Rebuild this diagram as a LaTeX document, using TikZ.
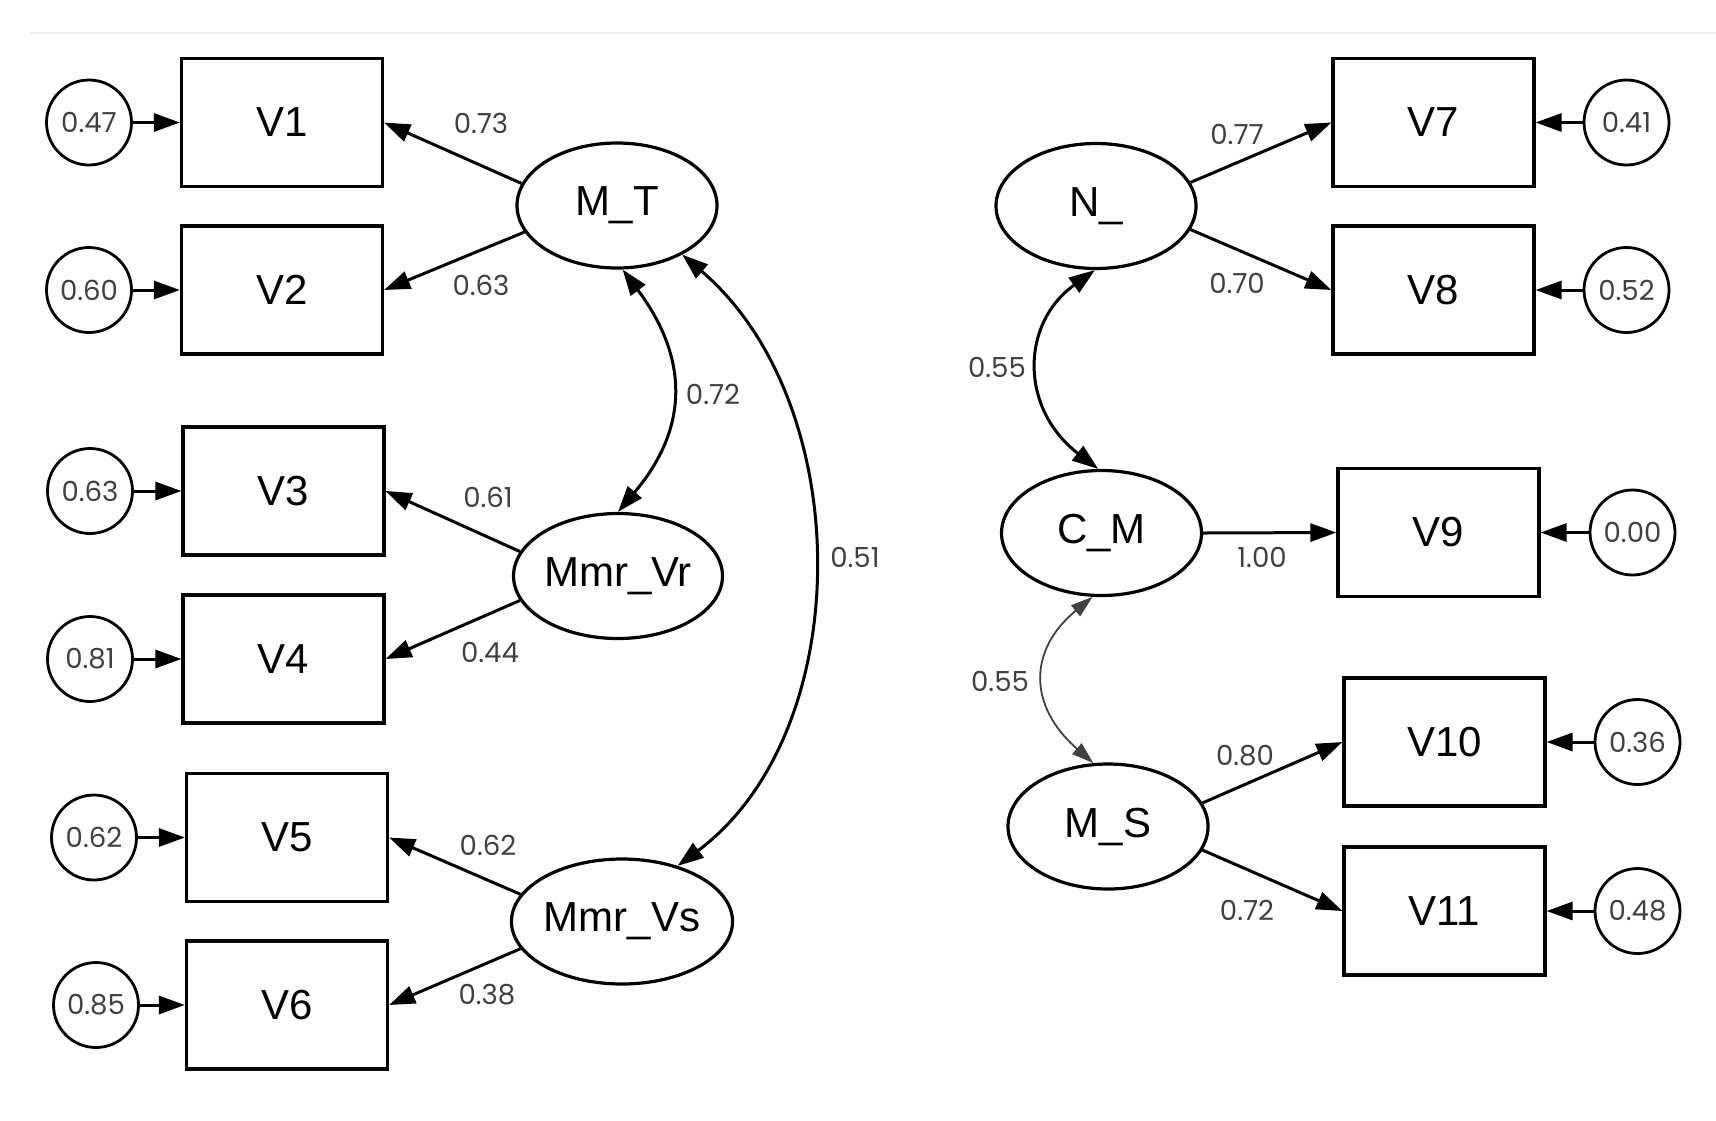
\documentclass[tikz,border=0pt]{standalone}
\usepackage{fontspec}
\setmainfont{Liberation Sans}
\newfontfamily\numfont{Poppins}
\usetikzlibrary{shapes.geometric,arrows.meta}
\definecolor{numgray}{rgb}{0.25,0.25,0.25}
\tikzset{
  obs/.style={draw, line width=1.6pt, minimum width=100.5pt, minimum height=64pt, inner sep=0pt, font=\fontsize{21}{21}\selectfont},
  lat/.style={draw, ellipse, line width=1.6pt, minimum width=100pt, minimum height=62.5pt, inner sep=0pt, font=\fontsize{21}{21}\selectfont},
  err/.style={draw, circle, line width=1.4pt, minimum size=42.5pt, inner sep=0pt, font=\numfont\fontsize{13.8}{13.8}\selectfont, text=numgray},
  lbl/.style={inner sep=0pt, font=\numfont\fontsize{13.8}{13.8}\selectfont, text=numgray},
  tip/.tip={Triangle[length=13pt,width=9pt]},
  load/.style={line width=1.5pt, -tip},
  cov/.style={line width=1.5pt, tip-tip},
  covthin/.style={line width=0.9pt, draw=black!75, {Triangle[length=11pt,width=7pt]}-{Triangle[length=11pt,width=7pt]}}
}
\begin{document}
\begin{tikzpicture}[x=0.5pt,y=-0.5pt]
\useasboundingbox (0,0) rectangle (1716,1120);
\fill[white] (0,0) rectangle (1716,1120);
\draw[gray!10, line width=0.8pt] (30,33) -- (1716,33);

% observed variables, left
\node[obs] (V1) at (282,122.5) {V1};
\node[obs] (V2) at (282,290) {V2};
\node[obs] (V3) at (283.5,491) {V3};
\node[obs] (V4) at (283.5,659) {V4};
\node[obs] (V5) at (287,837.5) {V5};
\node[obs] (V6) at (287,1005) {V6};
% errors, left
\node[err] (e1) at (89,122.5) {0.47};
\node[err] (e2) at (89,290) {0.60};
\node[err] (e3) at (90,491) {0.63};
\node[err] (e4) at (90,659) {0.81};
\node[err] (e5) at (94,837.5) {0.62};
\node[err] (e6) at (96,1005) {0.85};
% latents, left
\node[lat] (MT) at (617,205.5) {M\_T};
\node[lat] (MVr) at (618,576) {Mmr\_Vr};
\node[lat] (MVs) at (622,921.5) {Mmr\_Vs};

% observed variables, right
\node[obs] (V7) at (1433.5,122.5) {V7};
\node[obs] (V8) at (1433.5,290) {V8};
\node[obs] (V9) at (1438.5,532.5) {V9};
\node[obs] (V10) at (1444.5,742) {V10};
\node[obs] (V11) at (1444.5,911) {V11};
% errors, right
\node[err] (e7) at (1626.5,122.5) {0.41};
\node[err] (e8) at (1626.5,290) {0.52};
\node[err] (e9) at (1632.5,532.5) {0.00};
\node[err] (e10) at (1637.5,742) {0.36};
\node[err] (e11) at (1637.5,911) {0.48};
% latents, right
\node[lat] (N) at (1096,206) {N\_};
\node[lat] (CM) at (1101.5,533) {C\_M};
\node[lat] (MS) at (1108,826.5) {M\_S};

% error arrows
\draw[load] (e1.east) -- (V1.west);
\draw[load] (e2.east) -- (V2.west);
\draw[load] (e3.east) -- (V3.west);
\draw[load] (e4.east) -- (V4.west);
\draw[load] (e5.east) -- (V5.west);
\draw[load] (e6.east) -- (V6.west);
\draw[load] (e7.west) -- (V7.east);
\draw[load] (e8.west) -- (V8.east);
\draw[load] (e9.west) -- (V9.east);
\draw[load] (e10.west) -- (V10.east);
\draw[load] (e11.west) -- (V11.east);

% loadings
\draw[load] (MT.167) -- (V1.east);
\draw[load] (MT.196) -- (V2.east);
\draw[load] (MVr.166) -- (V3.east);
\draw[load] (MVr.194) -- (V4.east);
\draw[load] (MVs.165.5) -- (V5.east);
\draw[load] (MVs.195) -- (V6.east);
\draw[load] (N.14) -- (V7.west);
\draw[load] (N.346) -- (V8.west);
\draw[load] (CM.east) -- (V9.west);
\draw[load] (MS.14) -- (V10.west);
\draw[load] (MS.346) -- (V11.west);

% covariances
\draw[cov] (MT.-85) .. controls (689,358.6) and (689,428) .. (MVr.north);
\draw[cov] (MT.-37) .. controls (857,404) and (857,732) .. (MVs.45);
\draw[cov] (N.-91) .. controls (1020,324) and (1020,409) .. (CM.93);
\draw[covthin] (CM.-98) .. controls (1028,650) and (1028,706) .. (MS.103);

% labels
\node[lbl] (l1) at (481,123) {0.73};
\node[lbl] (l2) at (481,285) {0.63};
\node[lbl] (l3) at (488,497) {0.61};
\node[lbl] (l4) at (490,652) {0.44};
\node[lbl] (l5) at (488,845) {0.62};
\node[lbl] (l6) at (487,995) {0.38};
\node[lbl] (l7) at (713,394) {0.72};
\node[lbl] (l8) at (855,557) {0.51};
\node[lbl] (l9) at (1237,134) {0.77};
\node[lbl] (l10) at (1237,283) {0.70};
\node[lbl] (l11) at (1262,557) {1.00};
\node[lbl] (l12) at (1245,756) {0.80};
\node[lbl] (l13) at (1247,910) {0.72};
\node[lbl] (l14) at (997,367) {0.55};
\node[lbl] (l15) at (1000,681) {0.55};
\end{tikzpicture}
\end{document}
